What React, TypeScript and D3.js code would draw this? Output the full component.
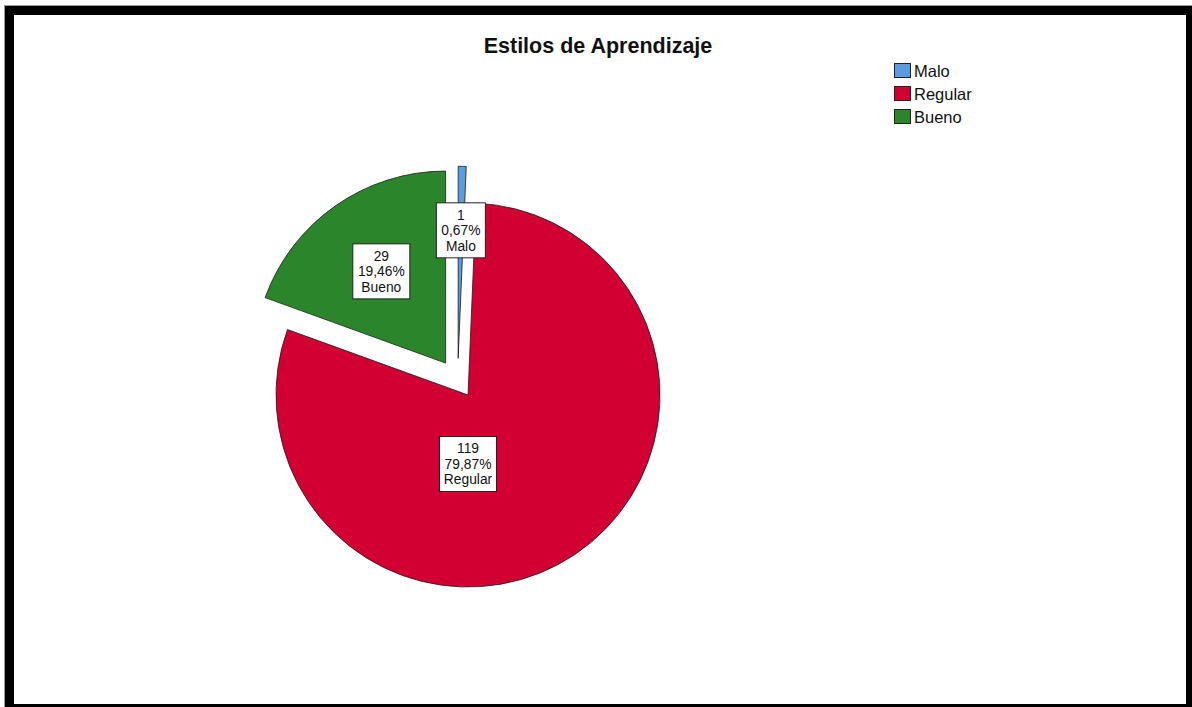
import React from "react";
import * as d3 from "d3";

const categories = ["Malo", "Regular", "Bueno"];
const counts = [1, 119, 29];
const percentLabels = ["0,67%", "79,87%", "19,46%"];
const colors = ["#5b9be0", "#d20032", "#2b862b"];

const W = 1192;
const H = 707;
const CX = 468;
const CY = 395;
const R = 192;
// explode settings per slice (distance in px, direction in degrees from 12 o'clock; null = slice mid-angle)
const explode = [
  { dist: 38, dir: -15 },
  { dist: 0, dir: null },
  { dist: 39, dir: null },
];
// label placement: radius from slice vertex, angle override (degrees) or null for mid-angle
const labelPlace = [
  { r: 128, dir: null },
  { r: 69, dir: 180 },
  { r: 112, dir: null },
];

export default function App() {
  const pie = d3.pie<number>().sort(null).value((d) => d);
  const arcs = pie(counts);
  const arcGen = d3.arc<d3.PieArcDatum<number>>().innerRadius(0).outerRadius(R);
  const font = "'Liberation Sans', Arial, sans-serif";

  return (
    <svg
      width={W}
      height={H}
      style={{ position: "absolute", left: 0, top: 0, display: "block" }}
    >
      <rect x={0} y={0} width={W} height={H} fill="#fff" />
      <rect x={4} y={5} width={W - 4} height={H - 5} fill="#9a9a9a" />
      <rect x={5} y={6} width={W - 5} height={H - 6} fill="#000" />
      <rect x={14} y={15} width={1172} height={689} fill="#fff" />

      <text
        x={598}
        y={53}
        textAnchor="middle"
        fontFamily={font}
        fontWeight="bold"
        fontSize={21.5}
        fill="#111"
      >
        Estilos de Aprendizaje
      </text>

      <g transform={`translate(${CX},${CY})`}>
        {arcs.map((a, i) => {
          const mid = (a.startAngle + a.endAngle) / 2;
          const e = explode[i];
          const dir = e.dir === null ? mid : (e.dir * Math.PI) / 180;
          const dx = Math.sin(dir) * e.dist;
          const dy = -Math.cos(dir) * e.dist;
          return (
            <path
              key={categories[i]}
              d={arcGen(a) || ""}
              transform={`translate(${dx},${dy})`}
              fill={colors[i]}
              stroke="#1a1a1a"
              strokeWidth={0.8}
            />
          );
        })}
        {arcs.map((a, i) => {
          const mid = (a.startAngle + a.endAngle) / 2;
          const e = explode[i];
          const dir = e.dir === null ? mid : (e.dir * Math.PI) / 180;
          const dx = Math.sin(dir) * e.dist;
          const dy = -Math.cos(dir) * e.dist;
          const lp = labelPlace[i];
          const la = lp.dir === null ? mid : (lp.dir * Math.PI) / 180;
          const lx = dx + Math.sin(la) * lp.r;
          const ly = dy - Math.cos(la) * lp.r;
          const lines = [String(counts[i]), percentLabels[i], categories[i]];
          const bw = i === 0 ? 49 : 57;
          const bh = 55;
          return (
            <g key={"l" + i} transform={`translate(${lx},${ly})`}>
              <rect
                x={-bw / 2}
                y={-bh / 2}
                width={bw}
                height={bh}
                fill="#fff"
                stroke="#222"
                strokeWidth={1}
              />
              {lines.map((t, k) => (
                <text
                  key={k}
                  x={0}
                  y={-15.5 + k * 15.5}
                  dy="0.35em"
                  textAnchor="middle"
                  fontFamily={font}
                  fontSize={13.8}
                  fill="#111"
                >
                  {t}
                </text>
              ))}
            </g>
          );
        })}
      </g>

      <g transform="translate(894,63)">
        {categories.map((c, i) => (
          <g key={c} transform={`translate(0,${i * 23})`}>
            <rect x={0.5} y={0.5} width={16} height={14} fill={colors[i]} stroke="#222" strokeWidth={1} />
            <text x={20} y={8} dy="0.35em" fontFamily={font} fontSize={16.5} fill="#111">
              {c}
            </text>
          </g>
        ))}
      </g>
    </svg>
  );
}
